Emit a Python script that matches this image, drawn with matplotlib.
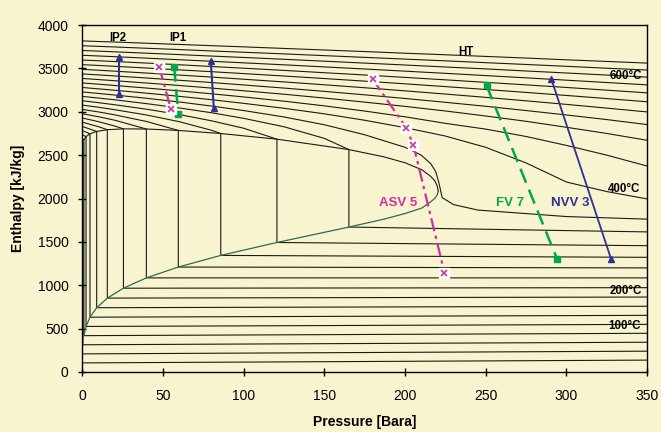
import numpy as np
import matplotlib
matplotlib.use("Agg")
import matplotlib.pyplot as plt

plt.rcParams['font.family'] = ['Liberation Sans', 'DejaVu Sans']

# isotherms below the critical point (25 C steps)
temps_sub = [25, 50, 75, 100, 125, 150, 175, 200, 225, 250, 275, 300, 325, 350]
p_sat = [0.03, 0.12, 0.39, 1.01, 2.32, 4.76, 8.92, 15.5, 25.5, 39.7, 59.5, 85.8, 120.6, 165.2]
h_f = [105, 209, 314, 419, 525, 632, 741, 852, 966, 1085, 1210, 1344, 1493, 1671]
h_g = [2547, 2592, 2635, 2676, 2713, 2746, 2773, 2793, 2803, 2801, 2785, 2749, 2684, 2564]
h_liq_350 = [137, 240, 343, 446, 549, 653, 758, 864, 972, 1085, 1200, 1322, 1456, 1615]

# pressure grid used for the steam side of the isotherms
p_grid = [0, 10, 20, 40, 60, 80, 100, 125, 150, 175, 200, 225, 250, 275, 300, 325, 350]

# steam side below p_sat (one row per temp, read up to p_sat)
h_vap_sub = [
    [2547],
    [2592],
    [2637],
    [2687],
    [2735],
    [2783],
    [2831],
    [2880, 2828],
    [2928, 2886, 2836],
    [2977, 2943, 2903],
    [3027, 2998, 2965, 2887],
    [3077, 3052, 3024, 2962, 2886, 2787],
    [3127, 3105, 3081, 3029, 2968, 2896, 2810],
    [3177, 3158, 3138, 3093, 3044, 2989, 2924, 2827, 2693],
]

# 375 C runs close to the critical point
p_375 = [0, 10, 20, 40, 60, 80, 100, 125, 150, 175, 200, 210, 216, 219, 221, 223, 230, 245, 300, 350]
h_375 = [3228, 3211, 3193, 3155, 3113, 3066, 3014, 2940, 2850, 2735, 2590, 2500, 2400, 2310,
         2180, 2010, 1930, 1867, 1792, 1762]

temps_sup = [400, 425, 450, 475, 500, 525, 550, 575, 600, 625, 650]
h_vap_sup = [
    [3280, 3264, 3248, 3214, 3178, 3139, 3097, 3040, 2976, 2902, 2817, 2720, 2590, 2410, 2190, 2080, 1995],
    [3332, 3318, 3303, 3273, 3241, 3207, 3171, 3122, 3068, 3008, 2942, 2866, 2800, 2715, 2612, 2500, 2374],
    [3384, 3371, 3358, 3331, 3303, 3273, 3242, 3202, 3158, 3111, 3062, 3009, 2951, 2890, 2821, 2750, 2671],
    [3436, 3425, 3413, 3389, 3363, 3337, 3309, 3273, 3235, 3195, 3153, 3109, 3063, 3014, 2963, 2910, 2852],
    [3489, 3479, 3468, 3446, 3423, 3400, 3375, 3344, 3311, 3277, 3241, 3204, 3166, 3126, 3085, 3042, 2998],
    [3543, 3534, 3524, 3504, 3483, 3462, 3440, 3412, 3383, 3353, 3322, 3290, 3257, 3223, 3188, 3152, 3115],
    [3596, 3588, 3579, 3561, 3542, 3522, 3502, 3477, 3450, 3424, 3396, 3368, 3339, 3310, 3280, 3249, 3218],
    [3651, 3643, 3635, 3618, 3600, 3582, 3564, 3541, 3517, 3493, 3468, 3443, 3417, 3391, 3364, 3337, 3310],
    [3706, 3699, 3691, 3675, 3659, 3642, 3626, 3605, 3583, 3561, 3539, 3516, 3494, 3470, 3447, 3423, 3399],
    [3761, 3754, 3747, 3732, 3717, 3701, 3686, 3667, 3647, 3627, 3607, 3587, 3566, 3545, 3524, 3502, 3481],
    [3817, 3810, 3804, 3790, 3776, 3762, 3748, 3730, 3712, 3694, 3675, 3657, 3638, 3619, 3599, 3580, 3561],
]

# top of the saturation dome (360 C .. critical point)
p_dome_top = [186.7, 200.0, 210.4, 215.9, 218.6, 220.0, 220.6]
hf_dome_top = [1761, 1827, 1890, 1962, 2005, 2045, 2084]
hg_dome_top = [2481, 2412, 2331, 2255, 2200, 2140, 2084]

# process lines
ip2_p = [22.9, 22.9]
ip2_h = [3205, 3630]
ip1_blue_p = [81.5, 79.6]
ip1_blue_h = [3040, 3590]
ip_green_p = [56.9, 59.5]
ip_green_h = [3519, 2971]
ip_mag_p = [47.7, 54.8]
ip_mag_h = [3519, 3035]
asv_p = [179.9, 200.7, 205.2, 224.4]
asv_h = [3378, 2816, 2617, 1145]
fv_p = [250.5, 294.3]
fv_h = [3303, 1299]
nvv_p = [327.6, 290.6]
nvv_h = [1306, 3380]

bg = '#F9F4D0'
line_c = '#1a1a1a'
blue = '#2E3192'
green = '#00A651'
magenta = '#CC3399'

fig = plt.figure(figsize=(6.61, 4.32), dpi=100, facecolor=bg)
ax = fig.add_axes([0.1245, 0.1389, 0.8545, 0.8032])
ax.set_facecolor(bg)

# sub-critical isotherms: steam side, two-phase vertical, water side
for i, t in enumerate(temps_sub):
    row = h_vap_sub[i]
    pp = p_grid[:len(row)] + [p_sat[i], p_sat[i], 350]
    hh = row + [h_g[i], h_f[i], h_liq_350[i]]
    ax.plot(pp, hh, color=line_c, lw=0.8, zorder=2)

ax.plot(p_375, h_375, color=line_c, lw=0.8, zorder=2)
for i, t in enumerate(temps_sup):
    ax.plot(p_grid, h_vap_sup[i], color=line_c, lw=0.8, zorder=2)

# saturation lines
ax.plot(p_sat[3:] + p_dome_top, h_g[3:] + hg_dome_top, color=line_c, lw=0.8, zorder=2)
ax.plot(p_sat[3:] + p_dome_top, h_f[3:] + hf_dome_top, color='#2E6B50', lw=0.9, zorder=3)

# process lines
ax.plot(ip2_p, ip2_h, color=blue, lw=1.5, marker='^', ms=5, zorder=5)
ax.plot(ip1_blue_p, ip1_blue_h, color=blue, lw=1.5, marker='^', ms=5, zorder=5)
ax.plot(nvv_p, nvv_h, color=blue, lw=1.3, marker='^', ms=5, zorder=5)

ax.plot(ip_green_p, ip_green_h, color=green, lw=1.8, dashes=(6, 3), marker='s', ms=4.5, zorder=5)
ax.plot(fv_p, fv_h, color=green, lw=1.8, dashes=(6, 3), marker='s', ms=4.5, zorder=5)

for pp, hh in [(ip_mag_p, ip_mag_h), (asv_p, asv_h)]:
    ax.plot(pp, hh, color=magenta, lw=1.6, dashes=(6, 2, 1.5, 2), zorder=5)
    ax.plot(pp, hh, ls='none', marker='s', ms=6.5, mfc='white', mec='white', zorder=6)
    ax.plot(pp, hh, ls='none', marker='x', ms=4.5, mew=1.2, color=magenta, zorder=7)

# labels
lab = dict(fontsize=8.3, fontweight='bold', ha='center', va='center', zorder=8)
ax.text(22.3, 3850, 'IP2', **lab)
ax.text(59.5, 3850, 'IP1', **lab)
ax.text(237.5, 3690, 'HT', **lab)
ax.text(337.0, 3416, '600°C', **lab)
ax.text(336.0, 2110, '400°C', **lab)
ax.text(337.0, 934, '200°C', **lab)
ax.text(336.0, 530, '100°C', **lab)

lab2 = dict(fontsize=9.5, fontweight='bold', ha='center', va='center', zorder=8)
ax.text(195.7, 1952, 'ASV 5', color=magenta, **lab2)
ax.text(265.1, 1952, 'FV 7', color=green, **lab2)
ax.text(302.3, 1952, 'NVV 3', color=blue, **lab2)

ax.set_xlim(0, 350)
ax.set_ylim(0, 4000)
ax.set_xticks(np.arange(0, 351, 50))
ax.set_yticks(np.arange(0, 4001, 500))
ax.tick_params(direction='inout', length=6, width=1, labelsize=10)
ax.tick_params(axis='x', pad=9)
ax.tick_params(axis='y', pad=7)
for s in ax.spines.values():
    s.set_linewidth(1)
    s.set_color('black')

ax.set_xlabel('Pressure [Bara]', fontsize=10, fontweight='bold', labelpad=9)
ax.set_ylabel('Enthalpy [kJ/kg]', fontsize=10, fontweight='bold', labelpad=9)

fig.savefig('out.png', dpi=100, facecolor=bg)
